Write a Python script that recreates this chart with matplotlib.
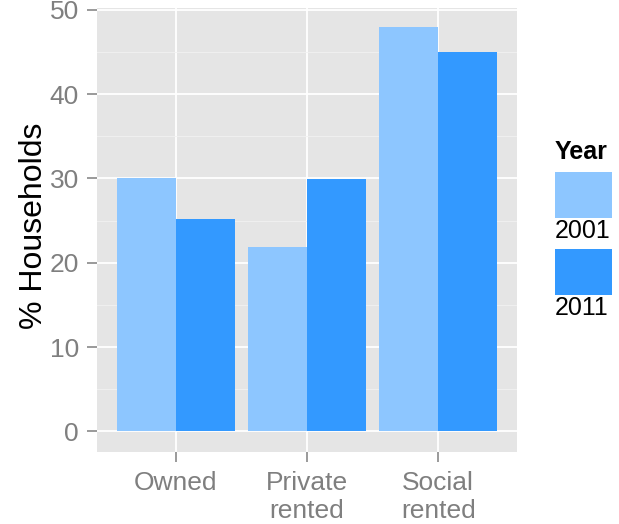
import matplotlib

matplotlib.use("Agg")
import matplotlib.pyplot as plt
import numpy as np
from matplotlib.patches import Rectangle

plt.rcParams["font.family"] = ["Liberation Sans", "DejaVu Sans"]

categories = ["Owned", "Private\nrented", "Social\nrented"]
years = ["2001", "2011"]
pct_2001 = [30.1, 21.8, 47.9]
pct_2011 = [25.2, 29.9, 45.0]
colours = ["#8DC6FF", "#3399FF"]
y_ticks = [0, 10, 20, 30, 40, 50]

fig = plt.figure(figsize=(6.19, 5.24), dpi=100)
ax = fig.add_axes([97 / 619, 72 / 524, 420 / 619, 444 / 524])
ax.set_facecolor("#E5E5E5")

x = np.arange(1, len(categories) + 1)
w = 0.45
for vals, off, col in zip([pct_2001, pct_2011], [-w / 2, w / 2], colours):
    ax.bar(x + off, vals, width=w, color=col, zorder=3, linewidth=0)

ax.set_xlim(0.4, 3.6)
ax.set_ylim(-2.45, 50.2)
ax.set_xticks(x)
ax.set_xticklabels(categories)
ax.set_yticks(y_ticks)
ax.set_yticks([5, 15, 25, 35, 45], minor=True)
ax.grid(which="major", color="white", linewidth=1.3, zorder=1)
ax.grid(which="minor", axis="y", color="#F2F2F2", linewidth=0.6, zorder=1)
ax.tick_params(which="major", length=7.5, width=1.1, color="#7F7F7F",
               labelcolor="#7F7F7F", labelsize=19, pad=5.5)
ax.tick_params(axis="x", pad=6, length=7.5)
ax.tick_params(which="minor", length=0)
for s in ax.spines.values():
    s.set_visible(False)
ax.set_ylabel("% Households", fontsize=23)
ax.yaxis.set_label_coords(-0.114, 0.509)

# legend drawn by hand to keep the stacked look
fig.text(555 / 619, 1 - 152 / 524, "Year", fontsize=18, fontweight="bold",
         va="center", ha="left")
for i, (yr, col) in enumerate(zip(years, colours)):
    top = 172 + i * 77
    fig.add_artist(Rectangle((555 / 619, 1 - (top + 46) / 524), 57 / 619, 46 / 524,
                             transform=fig.transFigure, color=col, linewidth=0))
    fig.text(555 / 619, 1 - (top + 59) / 524, yr, fontsize=18, va="center", ha="left")

fig.savefig("out.png", dpi=100)
